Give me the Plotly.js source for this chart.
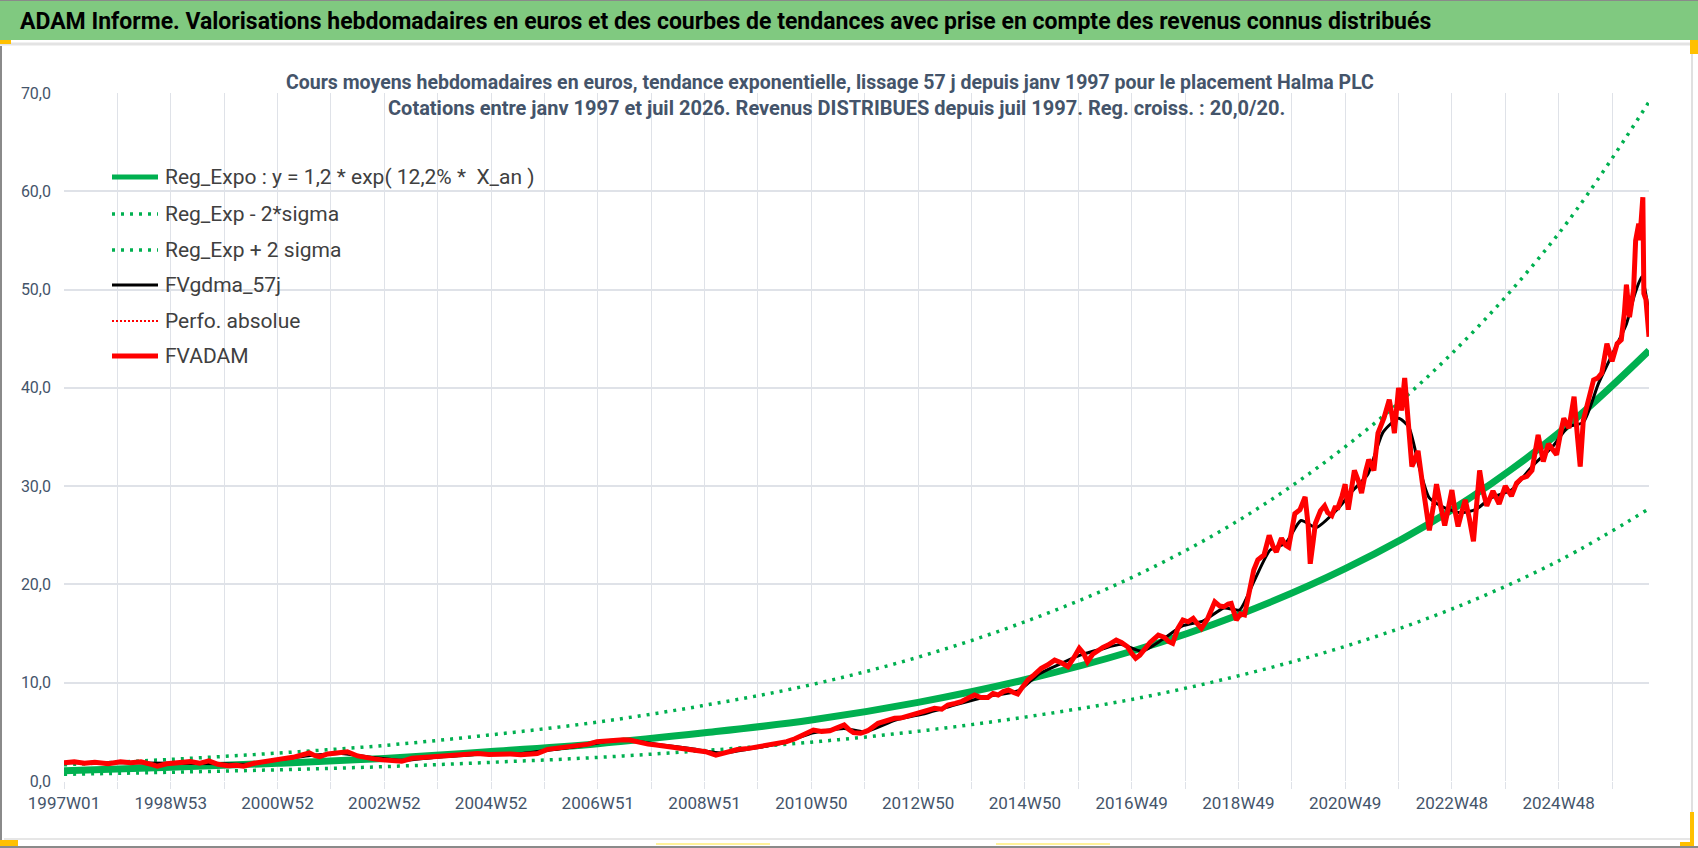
<!DOCTYPE html>
<html>
<head>
<meta charset="utf-8">
<script src="https://cdn.plot.ly/plotly-3.0.1.min.js"></script>
<style>
  html, body { margin: 0; padding: 0; background: #ffffff; }
  #chart { width: 1698px; height: 848px; }
</style>
</head>
<body>
<div id="chart"></div>
<script>
// axe des x : index de semaine depuis 1997W01
var tickWeeks = [0, 104, 208, 312, 416, 520, 624, 728, 832, 936, 1040, 1144, 1248, 1352, 1456];
var tickLabels = ['1997W01', '1998W53', '2000W52', '2002W52', '2004W52', '2006W51', '2008W51',
  '2010W50', '2012W50', '2014W50', '2016W49', '2018W49', '2020W49', '2022W48', '2024W48'];

// courbes de tendance
var trendWeeks = [0, 104, 208, 312, 416, 520, 624, 728, 832, 936, 1040, 1144, 1248, 1352, 1456, 1544];
var regExpo   = [1.05, 1.4, 1.8, 2.3, 3.0, 3.8, 4.9, 6.2, 8.0, 10.3, 13.2, 16.9, 21.6, 27.6, 35.4, 43.8];
var regPlus2  = [1.65, 2.2, 2.84, 3.62, 4.7, 6.0, 7.7, 9.8, 12.6, 16.2, 20.7, 26.5, 34.0, 43.5, 55.7, 69.1];
var regMoins2 = [0.68, 0.89, 1.14, 1.46, 1.9, 2.4, 3.1, 3.95, 5.06, 6.5, 8.3, 10.7, 13.7, 17.5, 22.4, 27.7];

// FVADAM (cours hebdo)
var adamWeeks = [0, 10, 20, 30, 43, 55, 65, 75, 85, 91, 100, 110, 123, 132, 141, 150, 160, 168, 175, 185,
  195, 202, 212, 223, 230, 239, 244, 249, 257, 265, 276, 286, 295, 302, 310, 318, 329, 339, 350, 360,
  372, 387, 395, 403, 414, 424, 435, 445, 455, 461, 471, 480, 487, 495, 503, 511, 519, 527, 535, 545,
  551, 561, 569, 577, 585, 593, 604, 614, 625, 635, 646, 656, 667, 678, 688, 696, 704, 712, 720, 730,
  738, 746, 753, 760, 765, 769, 776, 783, 793, 800, 809, 815, 822, 829, 835, 842, 848, 855, 861, 868,
  874, 880, 887, 893, 900, 905, 910, 915, 920, 925, 929, 934, 939, 945, 952, 958, 965, 972, 978, 984,
  989, 993, 997, 1002, 1007, 1012, 1017, 1021, 1025, 1030, 1036, 1040, 1044, 1048, 1052, 1058, 1066, 1072, 1076, 1080,
  1085, 1090, 1095, 1100, 1104, 1108, 1114, 1121, 1126, 1130, 1134, 1137, 1142, 1146, 1150, 1155, 1159, 1163, 1166, 1169,
  1174, 1178, 1181, 1186, 1190, 1193, 1196, 1199, 1204, 1209, 1212, 1214, 1217, 1219, 1224, 1228, 1231, 1235, 1238, 1241,
  1245, 1248, 1251, 1254, 1257, 1261, 1264, 1268, 1271, 1276, 1280, 1286, 1291, 1294, 1296, 1300, 1303, 1306, 1309, 1313,
  1316, 1319, 1323, 1326, 1330, 1334, 1337, 1341, 1345, 1349, 1352, 1355, 1358, 1362, 1365, 1369, 1373, 1376, 1379, 1382,
  1386, 1392, 1398, 1404, 1410, 1415, 1420, 1425, 1430, 1436, 1441, 1446, 1450, 1454, 1458, 1461, 1466, 1471, 1474, 1477,
  1480, 1485, 1490, 1494, 1498, 1503, 1508, 1513, 1517, 1520, 1522, 1525, 1529, 1531, 1534, 1535, 1538, 1539, 1541, 1544];
var adamValues = [1.86, 1.95, 1.80, 1.90, 1.75, 1.95, 1.85, 1.96, 1.70, 1.50, 1.75, 1.90, 1.97, 1.80, 2.05, 1.70, 1.55, 1.60, 1.50, 1.80,
  2.00, 2.14, 2.25, 2.41, 2.55, 2.85, 2.60, 2.48, 2.75, 2.88, 2.98, 2.55, 2.35, 2.25, 2.15, 2.10, 2.00, 2.31, 2.40, 2.50,
  2.55, 2.64, 2.75, 2.80, 2.70, 2.75, 2.75, 2.68, 2.80, 2.80, 3.22, 3.35, 3.43, 3.50, 3.56, 3.75, 4.00, 4.10, 4.17, 4.20,
  4.17, 3.90, 3.75, 3.66, 3.55, 3.43, 3.32, 3.20, 2.98, 2.64, 2.90, 3.20, 3.32, 3.50, 3.66, 3.85, 4.00, 4.30, 4.68, 5.19,
  5.05, 5.10, 5.40, 5.70, 5.20, 4.92, 4.85, 5.12, 5.87, 6.10, 6.38, 6.40, 6.61, 6.70, 6.88, 7.10, 7.39, 7.30, 7.73, 7.90,
  8.07, 8.40, 8.75, 8.50, 8.50, 8.90, 8.75, 9.10, 9.26, 9.00, 8.85, 9.60, 10.27, 10.80, 11.46, 11.80, 12.30, 12.00, 11.63, 12.60,
  13.50, 13.00, 12.14, 12.90, 13.33, 13.60, 13.83, 14.10, 14.34, 14.10, 13.66, 13.00, 12.48, 12.80, 13.33, 14.10, 14.85, 14.60, 14.20, 14.00,
  15.50, 16.38, 16.20, 16.55, 16.00, 15.53, 16.50, 18.24, 17.80, 17.73, 18.00, 18.07, 16.38, 17.00, 16.89, 19.40, 21.46, 22.50, 22.82, 23.00,
  25.00, 23.80, 23.30, 24.70, 24.00, 23.80, 25.50, 27.20, 27.60, 28.90, 26.00, 22.10, 24.50, 26.20, 27.50, 28.00, 27.30, 27.00, 27.80, 27.80,
  29.00, 30.20, 27.60, 30.00, 31.60, 30.50, 29.30, 31.50, 32.70, 31.60, 35.40, 37.00, 38.80, 37.00, 35.40, 40.00, 37.70, 41.00, 37.50, 32.00,
  32.70, 33.60, 30.50, 28.40, 25.50, 28.00, 30.20, 28.00, 26.00, 28.00, 29.60, 27.50, 25.90, 27.50, 28.60, 26.70, 24.40, 28.00, 31.60, 29.60,
  28.00, 29.50, 28.20, 30.00, 29.00, 30.30, 30.80, 31.00, 31.60, 35.20, 32.50, 34.30, 33.80, 33.20, 35.50, 36.90, 35.90, 39.10, 35.40, 32.00,
  36.70, 38.90, 40.80, 41.00, 41.50, 44.50, 42.70, 44.50, 44.90, 47.60, 50.50, 47.20, 50.00, 55.00, 56.70, 55.00, 59.40, 49.60, 49.00, 45.20];

// FVgdma_57j (moyenne lissée)
var gdmaWeeks = [0, 52, 104, 156, 180, 208, 240, 270, 300, 330, 360, 400, 440, 470, 500, 530, 550, 580, 610, 640,
  670, 700, 730, 760, 780, 810, 840, 870, 900, 930, 950, 970, 990, 1010, 1030, 1050, 1070, 1090, 1110, 1130,
  1145, 1160, 1175, 1190, 1205, 1220, 1240, 1255, 1270, 1285, 1300, 1310, 1320, 1330, 1345, 1360, 1375, 1390, 1410, 1430,
  1450, 1465, 1480, 1495, 1510, 1522, 1530, 1537, 1544];
var gdmaValues = [1.85, 1.85, 1.80, 1.75, 1.70, 2.15, 2.60, 2.80, 2.40, 2.10, 2.40, 2.70, 2.75, 3.10, 3.50, 4.05, 4.15, 3.70, 3.30, 2.85,
  3.30, 3.85, 4.90, 5.35, 5.00, 6.20, 6.90, 7.80, 8.60, 9.20, 10.90, 11.90, 12.80, 13.40, 13.90, 13.20, 14.40, 15.80, 16.30, 17.60,
  17.40, 20.50, 23.50, 24.20, 26.50, 25.80, 27.60, 29.50, 31.20, 35.50, 36.90, 36.00, 32.00, 28.80, 27.80, 27.30, 27.60, 28.80, 29.60, 32.00,
  34.00, 36.00, 36.50, 40.50, 43.80, 46.50, 49.50, 51.30, 47.50];

// légende (ordre d'affichage)
var legendNames = ['Reg_Expo : y = 1,2 * exp( 12,2% *  X_an )', 'Reg_Exp - 2*sigma', 'Reg_Exp + 2 sigma',
  'FVgdma_57j', 'Perfo. absolue', 'FVADAM'];

var W = 1698, H = 848;
var L = 64, R = 1649, T = 93, B = 781;
function px(x) { return (x - L) / (R - L); }
function py(y) { return (B - y) / (B - T); }

var FONT = 'Roboto, "Open Sans", sans-serif';
var GREEN = '#00b050';
var GRID = '#dfe2e8';
var DOTS = '3px,6px';

var styles = [
  { color: GREEN, width: 7, dash: 'solid' },
  { color: GREEN, width: 3.5, dash: DOTS },
  { color: GREEN, width: 3.5, dash: DOTS },
  { color: '#000000', width: 3, dash: 'solid' },
  { color: '#ff0000', width: 2, dash: '2px,2px' },
  { color: '#ff0000', width: 5, dash: 'solid' }
];

var data = [
  { x: trendWeeks, y: regExpo, type: 'scatter', mode: 'lines', name: legendNames[0],
    line: { color: styles[0].color, width: styles[0].width, shape: 'spline' } },
  { x: trendWeeks, y: regMoins2, type: 'scatter', mode: 'lines', name: legendNames[1],
    line: { color: styles[1].color, width: styles[1].width, dash: styles[1].dash, shape: 'spline' } },
  { x: trendWeeks, y: regPlus2, type: 'scatter', mode: 'lines', name: legendNames[2],
    line: { color: styles[2].color, width: styles[2].width, dash: styles[2].dash, shape: 'spline' } },
  { x: gdmaWeeks, y: gdmaValues, type: 'scatter', mode: 'lines', name: legendNames[3],
    line: { color: styles[3].color, width: styles[3].width, shape: 'spline', smoothing: 0.6 } },
  { x: adamWeeks, y: adamValues, type: 'scatter', mode: 'lines', name: legendNames[4],
    line: { color: styles[4].color, width: styles[4].width, dash: styles[4].dash } },
  { x: adamWeeks, y: adamValues, type: 'scatter', mode: 'lines', name: legendNames[5],
    line: { color: styles[5].color, width: styles[5].width } }
];

function hline(x0, x1, y, color, width, dash) {
  return { type: 'line', xref: 'paper', yref: 'paper', x0: px(x0), x1: px(x1), y0: py(y), y1: py(y),
    line: { color: color, width: width, dash: dash || 'solid' } };
}
function box(x0, x1, y0, y1, color) {
  return { type: 'rect', xref: 'paper', yref: 'paper', x0: px(x0), x1: px(x1), y0: py(y1), y1: py(y0),
    fillcolor: color, line: { width: 0 } };
}

var shapes = [
  // bandeau vert
  box(0, W, 0, 40, '#80c980'),
  hline(0, W, 0.5, '#8a8a8a', 1),
  hline(0, W, 44, '#e3e3e3', 3),
  // cadre
  { type: 'line', xref: 'paper', yref: 'paper', x0: px(1), x1: px(1), y0: py(46), y1: py(847),
    line: { color: '#8a8a8a', width: 2 } },
  hline(0, W, 847, '#8a8a8a', 2),
  hline(4, 1690, 839, '#e6e6e6', 2),
  { type: 'line', xref: 'paper', yref: 'paper', x0: px(1692), x1: px(1692), y0: py(46), y1: py(840),
    line: { color: '#e0e0e0', width: 2 } },
  // marques orange / jaunes
  box(0, 11, 40, 44, '#ffc000'),
  box(1690, 1698, 40, 54, '#ffc000'),
  box(0, 18, 840, 846, '#ffc000'),
  box(1690, 1694, 812, 846, '#ffc000'),
  box(1680, 1694, 842, 846, '#ffc000'),
  hline(656, 770, 844, '#fff29a', 2),
  hline(996, 1110, 844, '#fff29a', 2)
];

var annotations = [
  { xref: 'paper', yref: 'paper', x: px(18), y: py(21), xanchor: 'left', yanchor: 'middle', showarrow: false,
    text: '<b>ADAM Informe. Valorisations hebdomadaires en euros et des courbes de tendances avec prise en compte des revenus connus distribués</b>',
    font: { family: FONT, size: 23, color: '#000000' } },
  { xref: 'paper', yref: 'paper', x: px(830), y: py(82), xanchor: 'center', yanchor: 'middle', showarrow: false,
    text: '<b>Cours moyens hebdomadaires en euros, tendance exponentielle, lissage 57 j depuis janv 1997 pour le placement Halma PLC</b>',
    font: { family: FONT, size: 19.5, color: '#44546a' } },
  { xref: 'paper', yref: 'paper', x: px(836), y: py(108), xanchor: 'center', yanchor: 'middle', showarrow: false,
    text: '<b>Cotations entre janv 1997 et juil 2026. Revenus DISTRIBUES depuis juil 1997. Reg. croiss. : 20,0/20.</b>',
    font: { family: FONT, size: 20, color: '#44546a' } }
];

// légende dessinée à la main
var legendRows = [177, 214, 250, 285, 321, 356];
for (var i = 0; i < legendNames.length; i++) {
  shapes.push(hline(112, 158, legendRows[i], styles[i].color, Math.min(styles[i].width, 5), styles[i].dash));
  annotations.push({ xref: 'paper', yref: 'paper', x: px(163), y: py(legendRows[i]), xanchor: 'left', yanchor: 'middle',
    showarrow: false, text: legendNames[i], font: { family: FONT, size: 21, color: '#404040' } });
}

var layout = {
  width: W, height: H,
  paper_bgcolor: '#ffffff', plot_bgcolor: '#ffffff',
  margin: { l: L, r: W - R, t: T, b: H - B },
  separators: ', ',
  font: { family: FONT, color: '#595959', size: 16 },
  showlegend: false,
  xaxis: {
    range: [0, 1544], showgrid: true, gridcolor: GRID, gridwidth: 1,
    tickvals: tickWeeks, ticktext: tickLabels,
    ticks: 'outside', ticklen: 7, tickcolor: GRID,
    zeroline: false, showline: false,
    tickfont: { family: FONT, size: 17, color: '#44546a' },
    minor: { tick0: 0, dtick: 52, showgrid: true, gridcolor: GRID, ticks: 'outside', ticklen: 7, tickcolor: GRID }
  },
  yaxis: {
    range: [0, 70], dtick: 10, tickformat: '.1f',
    showgrid: true, gridcolor: GRID, gridwidth: 2,
    zeroline: false, showline: false, ticks: '', ticklabelstandoff: 12,
    tickfont: { family: FONT, size: 16, color: '#44546a' }
  },
  shapes: shapes,
  annotations: annotations
};

var config = { responsive: false, displayModeBar: false, staticPlot: true };

Plotly.newPlot('chart', data, layout, config);
</script>
</body>
</html>
